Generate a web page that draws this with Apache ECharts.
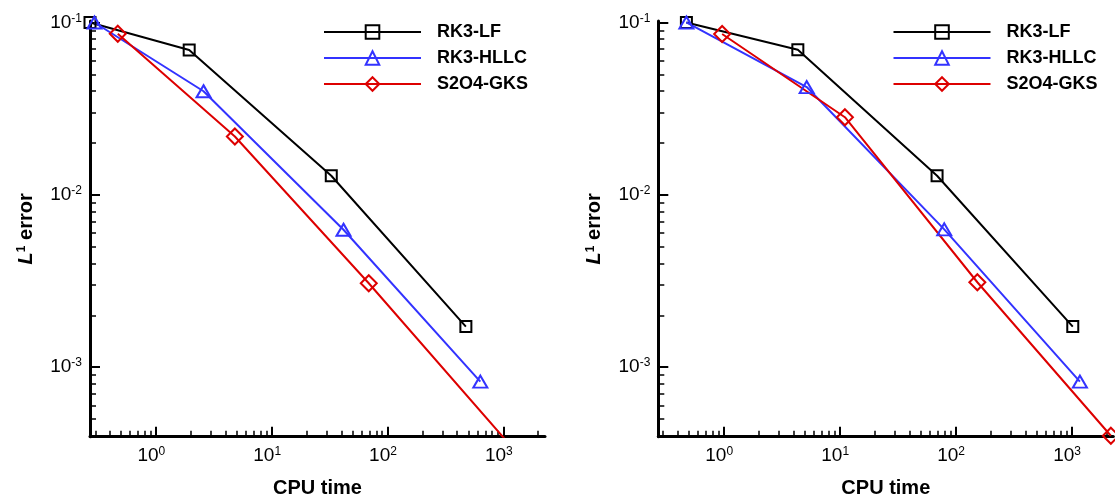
<!DOCTYPE html>
<html>
<head>
<meta charset="utf-8">
<script src="https://cdn.jsdelivr.net/npm/echarts@6/dist/echarts.min.js"></script>
<style>
html, body { margin: 0; padding: 0; background: #fff; }
#chart { width: 1115px; height: 500px; }
</style>
</head>
<body>
<div id="chart"></div>
<script>
var seriesNames = ['RK3-LF', 'RK3-HLLC', 'S2O4-GKS'];

// left panel
var lfTimeL = [0.27, 1.94, 32.7, 475];
var lfErrL = [0.1, 0.0693, 0.0129, 0.00172];
var hllcTimeL = [0.295, 2.58, 41.7, 633];
var hllcErrL = [0.1, 0.0399, 0.00627, 0.000825];
var gksTimeL = [0.469, 4.81, 68.9, 1300];
var gksErrL = [0.086, 0.0218, 0.00307, 0.00032];

// right panel
var lfTimeR = [0.477, 4.36, 69.2, 1024];
var lfErrR = [0.1, 0.0695, 0.0129, 0.00172];
var hllcTimeR = [0.477, 5.2, 79.8, 1180];
var hllcErrR = [0.1, 0.0422, 0.0063, 0.000824];
var gksTimeR = [0.97, 11.1, 154, 2182];
var gksErrR = [0.0857, 0.0282, 0.00311, 0.0004];

var majorX = [1, 10, 100, 1000];
var majorY = [0.001, 0.01, 0.1];
var decadesX = [0.1, 1, 10, 100, 1000];
var decadesY = [0.0001, 0.001, 0.01];
var mantissa = [2, 3, 4, 5, 6, 7, 8, 9];

function minorTicks(decades) {
    var out = [];
    decades.forEach(function (d) {
        mantissa.forEach(function (m) { out.push(+(d * m).toPrecision(3)); });
    });
    return out;
}
var minorX = minorTicks(decadesX);
var minorY = minorTicks(decadesY);

var colors = ['#000000', '#3333ff', '#dd0000'];
var symbols = ['rect', 'triangle', 'diamond'];
var symbolSizes = [11, [14, 12], 16];
var font = 'Liberation Sans';

var dom = document.getElementById('chart');
var myChart = echarts.init(dom, null, { renderer: 'canvas' });

function pow10(v) {
    var e = Math.round(Math.log10(v));
    return '{b|10}{s|' + e + '}';
}
var powRichY = {
    b: { fontSize: 19, fontFamily: font, color: '#000', lineHeight: 20 },
    s: { fontSize: 12, fontFamily: font, color: '#000', lineHeight: 10, verticalAlign: 'top' }
};
var powRichX = {
    b: { fontSize: 19, fontFamily: font, color: '#000', lineHeight: 20 },
    s: { fontSize: 12, fontFamily: font, color: '#000', lineHeight: 10, verticalAlign: 'top', padding: [0, 9, 0, 0] }
};

var xMin = 0.27, xMaxL = 2290, xMinR = 0.273, xMaxR = 2290;
var yMin = 0.000395, yMax = 0.102;

function mainX(gi, min, max) {
    return {
        type: 'log', gridIndex: gi, min: min, max: max,
        axisLine: { show: true, lineStyle: { color: '#000', width: 3 } },
        axisTick: { show: true, inside: true, length: 10, customValues: majorX, lineStyle: { color: '#000', width: 2 } },
        axisLabel: { customValues: majorX, formatter: pow10, rich: powRichX, margin: 9, fontSize: 19, fontFamily: font },
        splitLine: { show: false },
        name: 'CPU time', nameLocation: 'middle', nameGap: 42,
        nameTextStyle: { fontSize: 20, fontWeight: 'bold', fontFamily: font, color: '#000' }
    };
}
function minorXAxis(gi, min, max) {
    return {
        type: 'log', gridIndex: gi, min: min, max: max,
        axisLine: { show: false },
        axisTick: { show: true, inside: true, length: 6, customValues: minorX, lineStyle: { color: '#000', width: 1.5 } },
        axisLabel: { show: false },
        splitLine: { show: false }
    };
}
function mainY(gi) {
    return {
        type: 'log', gridIndex: gi, min: yMin, max: yMax,
        axisLine: { show: true, lineStyle: { color: '#000', width: 3 } },
        axisTick: { show: true, inside: true, length: 10, customValues: majorY, lineStyle: { color: '#000', width: 2 } },
        axisLabel: { customValues: majorY, formatter: pow10, rich: powRichY, margin: 8, fontSize: 19, fontFamily: font },
        splitLine: { show: false },
        name: '{i|L}{s|1} error', nameLocation: 'middle', nameRotate: 90, nameGap: 54,
        nameTextStyle: {
            fontSize: 20, fontWeight: 'bold', fontFamily: font, color: '#000',
            rich: {
                i: { fontSize: 20, fontWeight: 'bold', fontStyle: 'italic', fontFamily: font, color: '#000' },
                s: { fontSize: 12, fontFamily: font, color: '#000', verticalAlign: 'top', lineHeight: 10 }
            }
        }
    };
}
function minorYAxis(gi) {
    return {
        type: 'log', gridIndex: gi, min: yMin, max: yMax,
        axisLine: { show: false },
        axisTick: { show: true, inside: true, length: 6, customValues: minorY, lineStyle: { color: '#000', width: 1.5 } },
        axisLabel: { show: false },
        splitLine: { show: false }
    };
}

function zip(xs, ys) {
    return xs.map(function (x, i) { return [x, ys[i]]; });
}
function makeSeries(i, gi, xs, ys) {
    return {
        type: 'line', name: seriesNames[i], xAxisIndex: gi, yAxisIndex: gi,
        data: zip(xs, ys),
        symbol: symbols[i], symbolSize: symbolSizes[i],
        showSymbol: true, clip: true,
        lineStyle: { color: colors[i], width: 2 },
        itemStyle: { color: 'rgba(0,0,0,0)', borderColor: colors[i], borderWidth: 2 },
        emphasis: { disabled: true }
    };
}

function legendAt(left) {
    return {
        data: seriesNames, left: left, top: 23, orient: 'vertical', padding: 0,
        itemWidth: 97, itemHeight: 17, itemGap: 8,
        textStyle: { fontSize: 18, fontWeight: 'bold', fontFamily: font, color: '#000', padding: [0, 0, 0, 11] }
    };
}

var gridL = { left: 90, top: 21, width: 455, height: 415.7, containLabel: false, outerBoundsMode: 'none' };
var gridR = { left: 658.3, top: 21, width: 455, height: 415.7, containLabel: false, outerBoundsMode: 'none' };

var option = {
    animation: false,
    backgroundColor: '#fff',
    grid: [gridL, echarts.util.clone(gridL), gridR, echarts.util.clone(gridR)],
    xAxis: [mainX(0, xMin, xMaxL), minorXAxis(1, xMin, xMaxL), mainX(2, xMinR, xMaxR), minorXAxis(3, xMinR, xMaxR)],
    yAxis: [mainY(0), minorYAxis(1), mainY(2), minorYAxis(3)],
    legend: [legendAt(323), legendAt(892.5)],
    series: [
        makeSeries(0, 0, lfTimeL, lfErrL),
        makeSeries(1, 0, hllcTimeL, hllcErrL),
        makeSeries(2, 0, gksTimeL, gksErrL),
        makeSeries(0, 2, lfTimeR, lfErrR),
        makeSeries(1, 2, hllcTimeR, hllcErrR),
        makeSeries(2, 2, gksTimeR, gksErrR)
    ]
};

myChart.setOption(option);
window.addEventListener('resize', myChart.resize);
</script>
</body>
</html>
